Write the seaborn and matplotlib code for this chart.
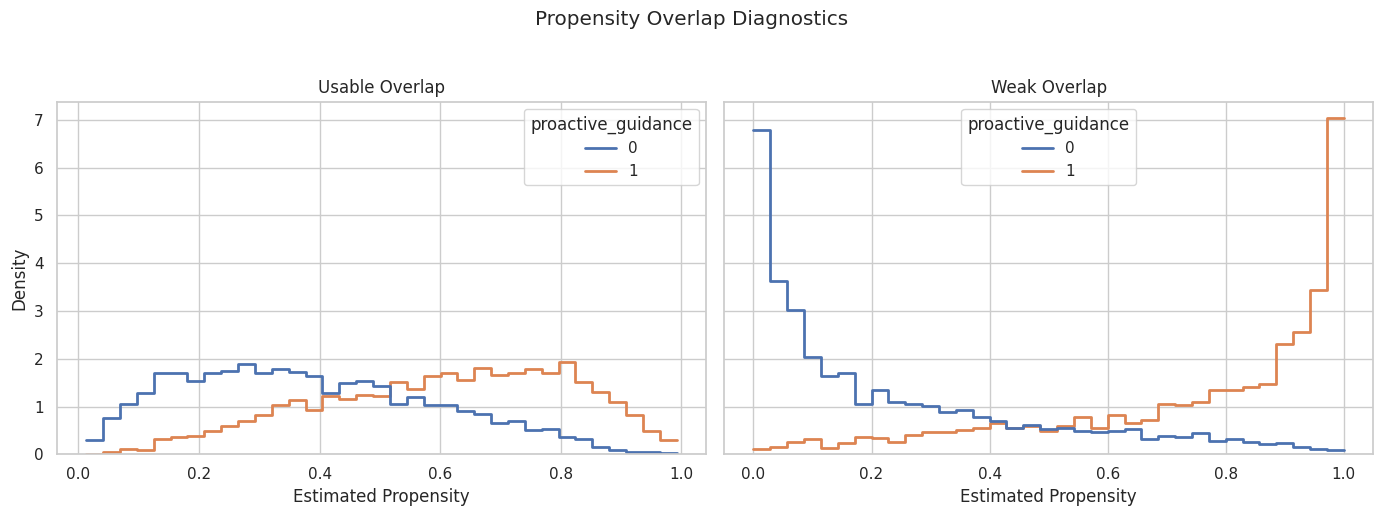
import numpy as np
import pandas as pd
import matplotlib
matplotlib.use("Agg")
import matplotlib.pyplot as plt
import seaborn as sns

# 35 bins per panel, density values
n_bins = 35
usable_range = (0.013, 0.992)
weak_range = (0.0, 1.0)

usable_0 = [0.29, 0.76, 1.06, 1.29, 1.70, 1.70, 1.54, 1.70, 1.74, 1.89,
            1.70, 1.78, 1.72, 1.63, 1.29, 1.50, 1.54, 1.42, 1.06, 1.19,
            1.03, 1.03, 0.90, 0.84, 0.66, 0.69, 0.51, 0.53, 0.37, 0.33,
            0.16, 0.10, 0.05, 0.04, 0.03]
usable_1 = [0.00, 0.04, 0.12, 0.10, 0.33, 0.37, 0.39, 0.48, 0.59, 0.69,
            0.83, 1.03, 1.14, 0.92, 1.23, 1.16, 1.25, 1.22, 1.51, 1.36,
            1.64, 1.71, 1.56, 1.80, 1.66, 1.71, 1.78, 1.71, 1.93, 1.51,
            1.31, 1.10, 0.82, 0.48, 0.29]

weak_0 = [6.74, 3.61, 3.01, 2.03, 1.63, 1.70, 1.04, 1.34, 1.08, 1.05,
          1.00, 0.87, 0.93, 0.78, 0.70, 0.55, 0.60, 0.53, 0.55, 0.48,
          0.46, 0.48, 0.52, 0.31, 0.39, 0.35, 0.44, 0.28, 0.31, 0.25,
          0.21, 0.23, 0.16, 0.10, 0.08]
weak_1 = [0.10, 0.16, 0.26, 0.31, 0.14, 0.23, 0.35, 0.33, 0.25, 0.41,
          0.46, 0.46, 0.51, 0.55, 0.65, 0.55, 0.58, 0.48, 0.58, 0.77,
          0.55, 0.81, 0.65, 0.71, 1.05, 1.02, 1.08, 1.34, 1.34, 1.39,
          1.45, 2.28, 2.53, 3.41, 6.97]

panels = [
    ("Usable Overlap", usable_range, usable_0, usable_1),
    ("Weak Overlap", weak_range, weak_0, weak_1),
]

sns.set_theme(style="whitegrid")

fig, axes = plt.subplots(1, 2, figsize=(13.84, 5.17), dpi=100, sharey=True)

for ax, (title, rng, h0, h1) in zip(axes, panels):
    edges = np.linspace(rng[0], rng[1], n_bins + 1)
    centers = (edges[:-1] + edges[1:]) / 2
    df = pd.DataFrame({
        "propensity": np.concatenate([centers, centers]),
        "w": np.concatenate([h0, h1]),
        "proactive_guidance": [0] * n_bins + [1] * n_bins,
    })
    sns.histplot(data=df, x="propensity", weights="w", hue="proactive_guidance",
                 bins=n_bins, binrange=rng, stat="density", common_norm=False,
                 element="step", fill=False, linewidth=2, ax=ax)
    ax.set_title(title)
    ax.set_xlabel("Estimated Propensity")
    ax.set_ylabel("Density")

sns.move_legend(axes[0], "upper right")
sns.move_legend(axes[1], "upper center")

fig.suptitle("Propensity Overlap Diagnostics")
fig.subplots_adjust(left=0.041, right=0.9923, top=0.8033, bottom=0.1213, wspace=0.0273)
fig.savefig("out.png")
